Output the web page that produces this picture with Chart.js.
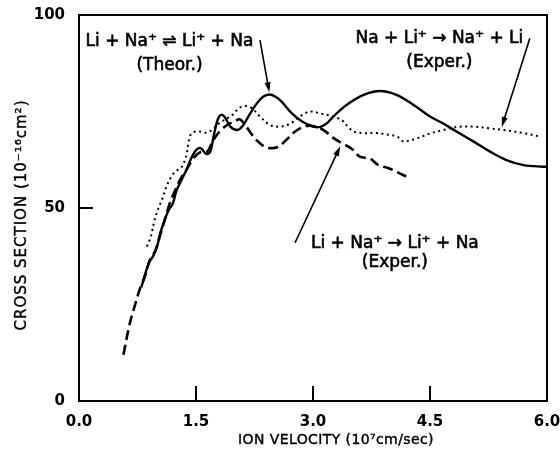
<!DOCTYPE html>
<html>
<head>
<meta charset="utf-8">
<script src="https://cdn.jsdelivr.net/npm/chart.js@4.4.1/dist/chart.umd.min.js"></script>
<style>
  html, body { margin: 0; padding: 0; background: #fff; }
</style>
</head>
<body>
<canvas id="crossSection" width="560" height="449"></canvas>
<script>
// Li + Na+ <=> Li+ + Na, theory (solid)
const theorX = [0.80, 0.85, 0.90, 0.95, 1.00, 1.05, 1.10, 1.15, 1.20, 1.25, 1.32, 1.38, 1.43, 1.50, 1.56, 1.63, 1.68, 1.73, 1.78, 1.83, 1.88, 1.94, 2.03, 2.10, 2.18, 2.28, 2.36, 2.44, 2.52, 2.60, 2.73, 2.86, 3.00, 3.09, 3.18, 3.26, 3.43, 3.65, 3.86, 4.07, 4.29, 4.50, 4.67, 4.84, 5.06, 5.27, 5.48, 5.70, 5.95, 6.00];
const theorY = [29.5, 33.0, 36.0, 37.5, 40.0, 44.0, 47.0, 49.5, 51.0, 54.5, 57.5, 60.0, 62.5, 65.0, 65.5, 64.0, 64.5, 69.0, 73.0, 74.2, 73.2, 71.1, 70.2, 71.3, 74.0, 77.1, 78.8, 79.4, 78.8, 77.5, 74.5, 72.4, 71.1, 71.0, 72.0, 73.7, 76.7, 79.3, 80.3, 79.3, 76.7, 73.7, 71.9, 69.8, 67.2, 64.6, 62.4, 61.1, 60.7, 60.7];

// Li + Na+ -> Li+ + Na, experiment (dashed)
const liNaX = [0.57, 0.65, 0.72, 0.78, 0.84, 0.91, 0.98, 1.04, 1.10, 1.16, 1.22, 1.30, 1.38, 1.47, 1.56, 1.64, 1.72, 1.81, 1.90, 2.00, 2.06, 2.12, 2.20, 2.28, 2.37, 2.45, 2.55, 2.65, 2.75, 2.85, 2.95, 3.05, 3.15, 3.25, 3.37, 3.50, 3.60, 3.73, 3.84, 3.97, 4.07, 4.22];
const liNaY = [12.0, 20.0, 25.0, 29.0, 32.0, 36.5, 39.0, 43.0, 47.0, 51.0, 54.0, 57.5, 60.0, 63.0, 64.5, 64.5, 67.5, 70.0, 71.5, 72.5, 73.0, 71.8, 69.5, 67.5, 66.0, 65.5, 65.8, 67.5, 69.5, 70.8, 71.3, 71.0, 70.0, 68.3, 66.8, 65.3, 63.3, 62.8, 61.1, 60.3, 59.4, 57.9];

// Na + Li+ -> Na+ + Li, experiment (dotted)
const naLiX = [0.87, 0.92, 0.97, 1.02, 1.07, 1.12, 1.18, 1.23, 1.28, 1.33, 1.38, 1.41, 1.45, 1.55, 1.64, 1.72, 1.80, 1.88, 1.96, 2.06, 2.14, 2.22, 2.32, 2.45, 2.58, 2.71, 2.83, 2.96, 3.09, 3.26, 3.38, 3.45, 3.52, 3.65, 3.82, 3.99, 4.08, 4.16, 4.25, 4.33, 4.50, 4.67, 4.84, 5.06, 5.27, 5.44, 5.70, 5.91];
const naLiY = [40.0, 42.5, 47.0, 50.0, 52.5, 55.5, 58.0, 59.4, 60.0, 61.0, 64.0, 67.5, 69.5, 69.8, 69.5, 70.5, 72.0, 73.0, 74.0, 76.0, 76.4, 75.8, 73.7, 71.5, 71.1, 71.9, 73.7, 75.0, 74.5, 73.7, 72.6, 71.0, 69.8, 69.4, 69.4, 68.9, 68.5, 67.2, 67.6, 68.0, 69.3, 70.2, 71.0, 71.1, 70.6, 70.2, 69.4, 68.5];

const xTicks = [0, 1.5, 3.0, 4.5, 6.0];
const yTicks = [0, 50, 100];

// labels and arrows, in data units
const notes = [
  { lines: ['Li + Na\u207A \u21CC Li\u207A + Na', '(Theor.)'], x: 1.16, y: [93.0, 87.0] },
  { lines: ['Na + Li\u207A \u2192 Na\u207A + Li', '(Exper.)'], x: 4.62, y: [94.0, 87.6] },
  { lines: ['Li + Na\u207A \u2192 Li\u207A + Na', '(Exper.)'], x: 4.05, y: [40.9, 35.8] }
];
const arrows = [
  { from: [2.32, 93.5], to: [2.44, 80.0] },
  { from: [5.78, 94.0], to: [5.42, 71.0] },
  { from: [2.77, 41.0], to: [3.35, 66.0] }
];

const pts = (xs, ys) => xs.map((x, i) => ({ x: x, y: ys[i] }));

// draw text slightly heavier, like the pen lettering of the original
function heavyText(ctx, t, x, y) {
  ctx.fillText(t, x, y);
  ctx.strokeText(t, x, y);
}

const figureDecor = {
  id: 'figureDecor',
  afterDraw(chart) {
    const ctx = chart.ctx;
    const area = chart.chartArea;
    const sx = chart.scales.x;
    const sy = chart.scales.y;
    ctx.save();
    ctx.strokeStyle = '#000';
    ctx.fillStyle = '#000';
    ctx.lineWidth = 2;
    ctx.strokeRect(area.left, area.top, area.right - area.left, area.bottom - area.top);

    // inward tick marks
    ctx.beginPath();
    xTicks.slice(1, -1).forEach(v => {
      const px = sx.getPixelForValue(v);
      ctx.moveTo(px, area.bottom);
      ctx.lineTo(px, area.bottom - 15);
    });
    yTicks.slice(1, -1).forEach(v => {
      const py = sy.getPixelForValue(v);
      ctx.moveTo(area.left, py);
      ctx.lineTo(area.left + 14, py);
    });
    ctx.stroke();

    // axis titles
    ctx.lineWidth = 0.4;
    ctx.textAlign = 'center';
    ctx.textBaseline = 'middle';
    ctx.font = '14px "DejaVu Sans"';
    ctx.letterSpacing = '0.4px';
    heavyText(ctx, 'ION VELOCITY (10\u2077cm/sec)', 336, 440);
    ctx.save();
    ctx.translate(22, 215);
    ctx.rotate(-Math.PI / 2);
    ctx.font = '15px "DejaVu Sans"';
    ctx.letterSpacing = '1px';
    heavyText(ctx, 'CROSS SECTION (10\u207B\u00B9\u2076cm\u00B2)', 0, 0);
    ctx.restore();

    // curve labels
    ctx.letterSpacing = '0px';
    ctx.font = '17px "DejaVu Sans"';
    ctx.lineWidth = 0.6;
    notes.forEach(n => {
      n.lines.forEach((t, i) => {
        heavyText(ctx, t, sx.getPixelForValue(n.x), sy.getPixelForValue(n.y[i]));
      });
    });

    // arrows
    ctx.lineWidth = 1.6;
    arrows.forEach(a => {
      const x0 = sx.getPixelForValue(a.from[0]), y0 = sy.getPixelForValue(a.from[1]);
      const x1 = sx.getPixelForValue(a.to[0]), y1 = sy.getPixelForValue(a.to[1]);
      const ang = Math.atan2(y1 - y0, x1 - x0);
      ctx.beginPath();
      ctx.moveTo(x0, y0);
      ctx.lineTo(x1 - 6 * Math.cos(ang), y1 - 6 * Math.sin(ang));
      ctx.stroke();
      ctx.beginPath();
      ctx.moveTo(x1, y1);
      ctx.lineTo(x1 - 10 * Math.cos(ang) + 3 * Math.sin(ang), y1 - 10 * Math.sin(ang) - 3 * Math.cos(ang));
      ctx.lineTo(x1 - 10 * Math.cos(ang) - 3 * Math.sin(ang), y1 - 10 * Math.sin(ang) + 3 * Math.cos(ang));
      ctx.closePath();
      ctx.fill();
    });
    ctx.restore();
  }
};

const tickFont = { family: 'DejaVu Sans', size: 15, weight: 'bold' };

new Chart(document.getElementById('crossSection'), {
  type: 'line',
  data: {
    datasets: [
      {
        label: 'Li + Na+ (Theor.)',
        data: pts(theorX, theorY),
        borderColor: '#000',
        borderWidth: 2.4,
        tension: 0.35,
        pointRadius: 0
      },
      {
        label: 'Li + Na+ (Exper.)',
        data: pts(liNaX, liNaY),
        borderColor: '#000',
        borderWidth: 2.6,
        borderDash: [10, 5],
        tension: 0.35,
        pointRadius: 0
      },
      {
        label: 'Na + Li+ (Exper.)',
        data: pts(naLiX, naLiY),
        borderColor: '#000',
        borderWidth: 2,
        borderDash: [2, 3.5],
        tension: 0.35,
        pointRadius: 0
      }
    ]
  },
  options: {
    responsive: false,
    animation: false,
    layout: { padding: { top: 15, right: 13, left: 0, bottom: 0 } },
    plugins: { legend: { display: false }, tooltip: { enabled: false } },
    scales: {
      x: {
        type: 'linear',
        min: 0,
        max: 6,
        grid: { display: false },
        border: { display: false },
        afterBuildTicks: s => { s.ticks = xTicks.map(v => ({ value: v })); },
        ticks: { color: '#000', font: tickFont, padding: 4, maxRotation: 0, callback: v => v.toFixed(1) },
        afterFit: s => { s.height = 48; s.paddingLeft = 0; s.paddingRight = 0; }
      },
      y: {
        min: 0,
        max: 100,
        grid: { display: false },
        border: { display: false },
        afterBuildTicks: s => { s.ticks = yTicks.map(v => ({ value: v })); },
        ticks: { color: '#000', font: tickFont, padding: 6 },
        afterFit: s => { s.width = 79; s.paddingTop = 0; s.paddingBottom = 0; }
      }
    }
  },
  plugins: [figureDecor]
});
</script>
</body>
</html>
